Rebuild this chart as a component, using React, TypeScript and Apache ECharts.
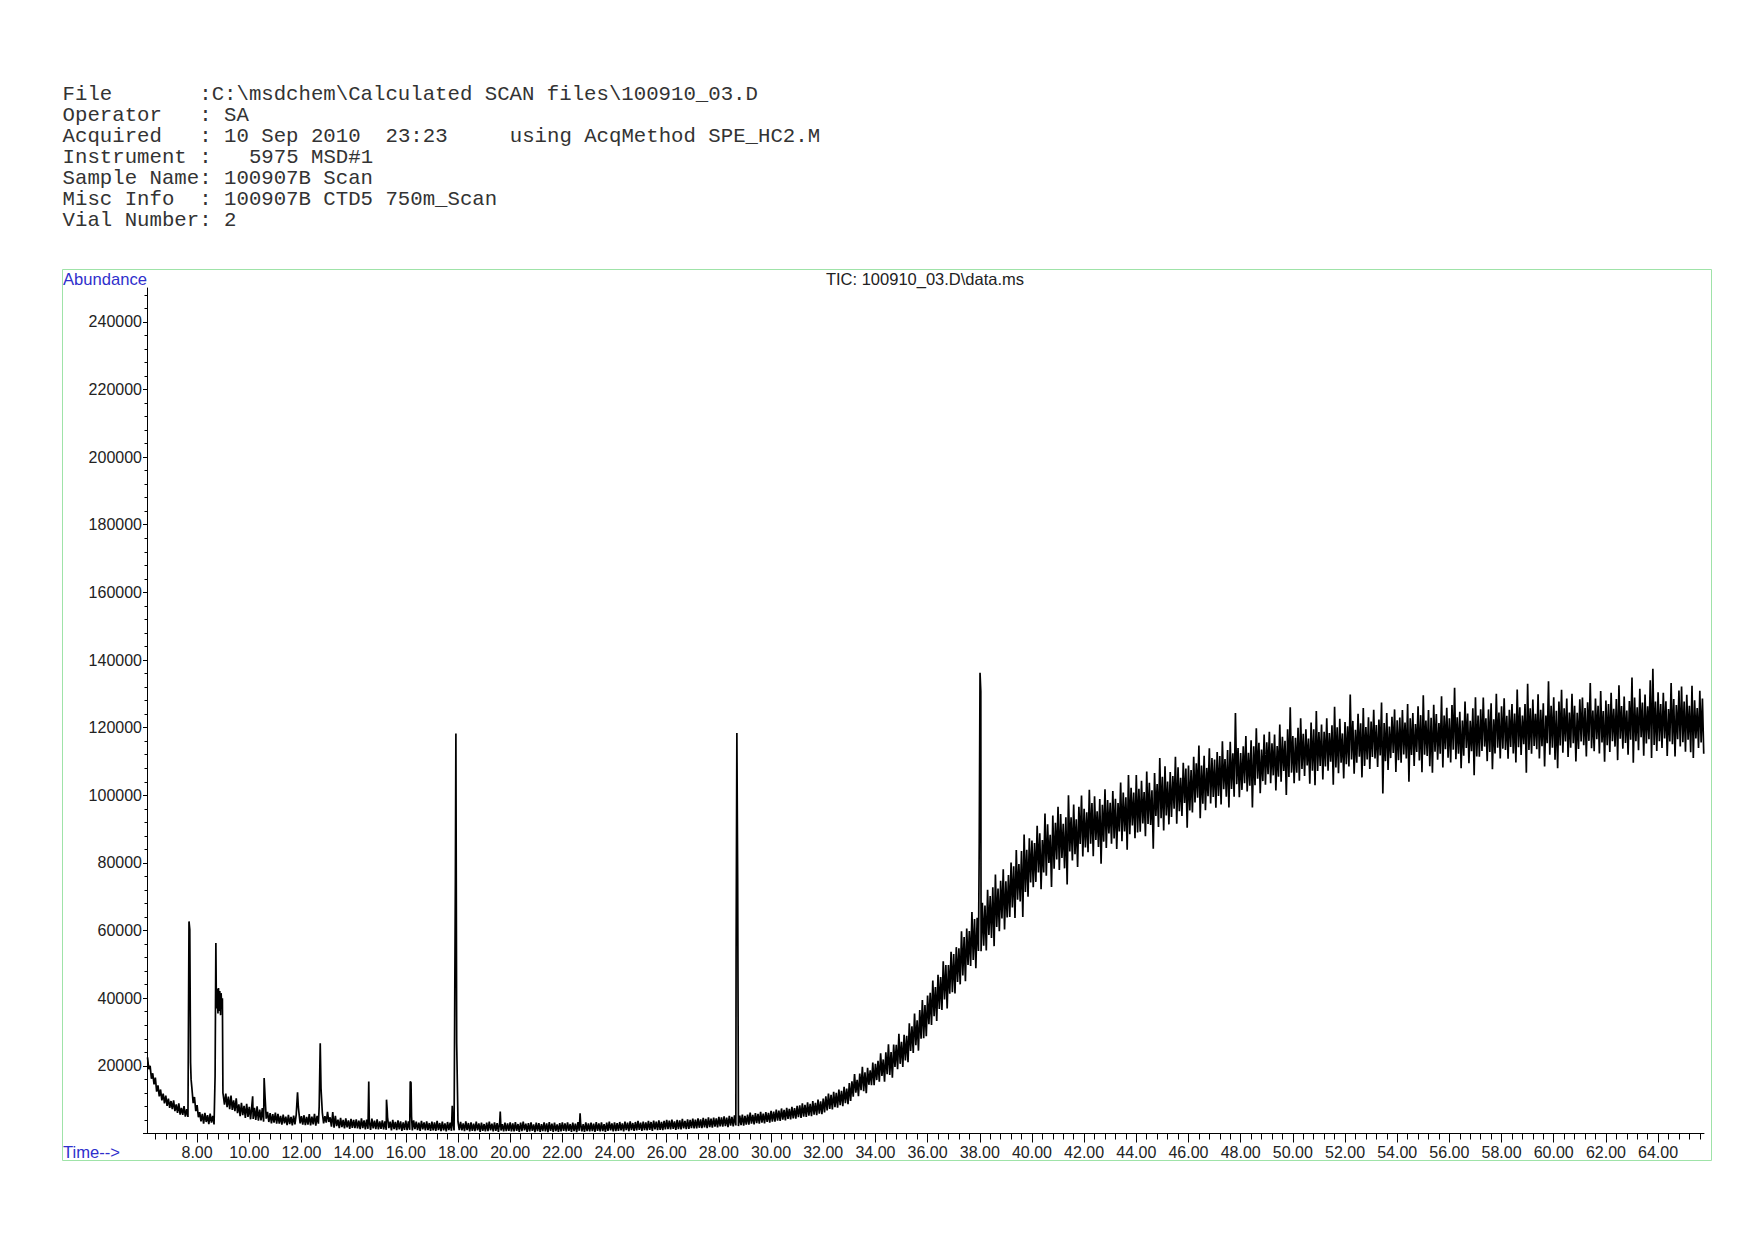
import React, { useEffect, useRef } from "react";
import * as echarts from "echarts";

// ---- header text (monospace block) ----
const headerRows: [number, string][][] = [
  [[0, "File"], [11, ":C:\\msdchem\\Calculated SCAN files\\100910_03.D"]],
  [[0, "Operator"], [11, ": SA"]],
  [[0, "Acquired"], [11, ": 10 Sep 2010"], [26, "23:23"], [36, "using AcqMethod SPE_HC2.M"]],
  [[0, "Instrument :"], [15, "5975 MSD#1"]],
  [[0, "Sample Name: 100907B Scan"]],
  [[0, "Misc Info"], [11, ": 100907B CTD5 750m_Scan"]],
  [[0, "Vial Number: 2"]],
];
const chartTitle = "TIC: 100910_03.D\\data.ms";
const yAxisName = "Abundance";
const xAxisName = "Time-->";

// ---- axes ----
const timeMin = 6.08;
const timeMax = 65.76;
const xTickLabels = [8, 10, 12, 14, 16, 18, 20, 22, 24, 26, 28, 30, 32, 34, 36, 38, 40, 42, 44, 46, 48, 50, 52, 54, 56, 58, 60, 62, 64];
const yMax = 250000;
const yTickLabels = [20000, 40000, 60000, 80000, 100000, 120000, 140000, 160000, 180000, 200000, 220000, 240000];

// ---- TIC trace: max / min of the signal (in thousands) inside each 0.1-min slice ----
const scanStart = 6.1;
const scanStep = 0.1;
const ticHi = [
  22.5, 20.0, 17.8, 16.5, 14.2, 13.0, 11.8, 11.2, 10.3, 9.6, // 6.1-7.0
  9.8, 8.6, 8.9, 7.6, 8.1, 7.2, 7.0, 13.5, 10.8, 8.4, // 7.1-8.0
  6.3, 5.8, 6.1, 5.4, 5.9, 5.2, 5.5, 42.0, 41.0, 11.5, // 8.1-9.0
  11.8, 10.9, 11.2, 9.8, 10.4, 8.6, 9.1, 8.2, 8.8, 7.9, // 9.1-10.0
  8.4, 7.6, 8.0, 7.1, 7.5, 9.8, 6.4, 6.0, 5.7, 6.2, // 10.1-11.0
  5.8, 5.2, 5.6, 5.0, 5.5, 4.9, 5.3, 5.6, 6.4, 5.1, // 11.1-12.0
  5.4, 4.9, 5.7, 5.0, 5.8, 5.2, 5.5, 6.2, 5.1, 6.4, // 12.1-13.0
  4.8, 6.3, 5.2, 4.1, 4.6, 4.0, 4.5, 3.9, 4.3, 4.0, // 13.1-14.0
  4.2, 3.8, 4.5, 3.9, 4.1, 3.7, 4.4, 3.8, 4.2, 3.6, // 14.1-15.0
  3.9, 3.6, 4.8, 3.5, 4.0, 3.4, 3.9, 3.6, 3.3, 3.8, // 15.1-16.0
  3.6, 3.4, 3.9, 3.5, 3.2, 3.7, 3.3, 3.6, 3.1, 3.5, // 16.1-17.0
  3.3, 3.7, 3.1, 3.5, 3.0, 3.4, 3.2, 3.6, 3.3, 3.5, // 17.1-18.0
  3.4, 3.0, 3.6, 3.1, 3.3, 2.9, 3.5, 3.0, 3.2, 2.8, // 18.1-19.0
  3.2, 3.5, 2.9, 3.3, 3.1, 3.4, 2.8, 3.2, 3.0, 3.3, // 19.1-20.0
  3.0, 3.4, 2.8, 3.2, 3.5, 2.9, 3.1, 3.3, 2.7, 3.2, // 20.1-21.0
  3.1, 2.8, 3.3, 3.0, 3.4, 2.9, 3.2, 2.7, 3.1, 3.3, // 21.1-22.0
  3.0, 3.3, 2.8, 3.2, 2.9, 3.4, 3.1, 2.8, 3.3, 3.0, // 22.1-23.0
  3.2, 2.9, 3.4, 3.0, 3.3, 2.8, 3.2, 3.5, 3.0, 3.3, // 23.1-24.0
  3.1, 3.4, 3.0, 3.5, 3.2, 3.6, 3.1, 3.4, 3.7, 3.2, // 24.1-25.0
  3.5, 3.3, 3.7, 3.4, 3.8, 3.5, 3.9, 3.4, 3.7, 4.0, // 25.1-26.0
  3.8, 4.1, 3.6, 4.0, 3.9, 4.3, 3.7, 4.2, 4.0, 4.4, // 26.1-27.0
  4.1, 4.5, 4.2, 4.6, 4.3, 4.8, 4.4, 4.7, 4.5, 4.9, // 27.1-28.0
  4.8, 5.1, 4.7, 5.2, 4.9, 5.4, 5.0, 5.3, 5.6, 5.2, // 28.1-29.0
  5.6, 6.2, 5.5, 6.0, 5.8, 6.4, 5.9, 6.3, 6.1, 6.7, // 29.1-30.0
  6.5, 7.1, 6.8, 7.4, 7.0, 7.6, 7.3, 7.9, 7.5, 8.2, // 30.1-31.0
  8.3, 8.9, 8.5, 9.2, 8.8, 9.6, 9.1, 10.0, 9.5, 10.3, // 31.1-32.0
  11.0, 11.8, 11.4, 12.3, 12.0, 13.0, 12.6, 13.8, 13.3, 14.9, // 32.1-33.0
  15.4, 17.6, 15.9, 17.7, 19.7, 18.1, 19.4, 18.7, 21.0, 20.6, // 33.1-34.0
  21.5, 23.7, 21.9, 24.0, 26.4, 24.1, 26.3, 26.2, 29.5, 27.1, // 34.1-35.0
  29.2, 28.9, 32.6, 31.7, 35.5, 33.5, 36.5, 39.5, 38.0, 40.8, // 35.1-36.0
  41.6, 45.2, 43.3, 46.9, 46.3, 50.9, 49.8, 49.8, 53.7, 53.1, // 36.1-37.0
  55.1, 54.8, 59.8, 58.1, 60.6, 59.9, 65.5, 63.4, 63.8, 67.5, // 37.1-38.0
  68.2, 67.4, 72.1, 70.2, 72.8, 76.6, 72.4, 74.7, 78.1, 74.6, // 38.1-39.0
  76.4, 80.1, 79.0, 83.8, 79.7, 83.5, 88.4, 83.9, 87.3, 86.6, // 39.1-40.0
  85.9, 91.0, 88.8, 86.8, 94.6, 91.4, 88.3, 94.0, 91.9, 96.6, // 40.1-41.0
  94.5, 91.6, 93.5, 100.0, 93.5, 97.3, 92.9, 96.6, 99.9, 96.0, // 41.1-42.0
  95.0, 101.6, 97.7, 99.7, 95.3, 98.9, 97.2, 101.8, 98.6, 97.8, // 42.1-43.0
  101.3, 99.0, 97.7, 103.8, 100.8, 99.4, 106.0, 102.2, 100.8, 106.0, // 43.1-44.0
  101.9, 104.3, 101.0, 107.0, 103.7, 101.5, 106.6, 103.3, 111.0, 105.5, // 44.1-45.0
  108.6, 104.1, 106.9, 105.7, 111.4, 108.3, 105.2, 109.6, 107.9, 108.8, // 45.1-46.0
  107.5, 111.4, 109.5, 114.7, 108.8, 111.7, 108.1, 113.9, 111.0, 110.6, // 46.1-47.0
  112.8, 111.6, 116.0, 110.7, 113.4, 115.8, 112.4, 124.3, 114.0, 112.5, // 47.1-48.0
  114.5, 117.5, 112.6, 116.3, 114.5, 119.8, 115.5, 113.5, 118.0, 115.7, // 48.1-49.0
  118.8, 115.4, 118.0, 114.6, 120.9, 117.3, 116.1, 119.5, 126.0, 117.5, // 49.1-50.0
  117.0, 120.0, 122.8, 118.2, 119.5, 116.8, 121.5, 119.5, 124.9, 118.7, // 50.1-51.0
  120.9, 118.8, 122.8, 118.4, 120.7, 126.2, 120.1, 122.6, 118.3, 121.7, // 51.1-52.0
  120.4, 129.8, 122.0, 119.4, 124.1, 121.3, 125.8, 120.2, 123.1, 121.8, // 52.1-53.0
  125.3, 120.8, 122.4, 127.4, 121.4, 124.3, 120.3, 123.2, 125.4, 122.2, // 53.1-54.0
  123.0, 125.2, 121.5, 127.0, 122.8, 124.3, 121.1, 126.3, 123.7, 129.6, // 54.1-55.0
  122.1, 125.2, 122.9, 126.8, 124.0, 121.4, 129.3, 123.6, 125.9, 122.8, // 55.1-56.0
  126.7, 131.8, 123.1, 124.7, 122.1, 127.7, 124.2, 122.0, 125.7, 129.0, // 56.1-57.0
  123.6, 125.4, 128.9, 122.8, 125.4, 127.2, 122.5, 130.0, 124.5, 126.3, // 57.1-58.0
  128.7, 123.5, 125.3, 127.0, 124.2, 131.3, 126.0, 123.6, 127.0, 133.0, // 58.1-59.0
  125.7, 128.3, 124.1, 129.9, 125.3, 127.2, 123.6, 133.7, 126.5, 129.0, // 59.1-60.0
  125.0, 127.7, 131.2, 125.7, 128.6, 124.5, 130.0, 126.5, 124.4, 128.4, // 60.1-61.0
  128.9, 125.8, 127.5, 133.2, 125.1, 128.6, 126.5, 130.8, 124.9, 128.0, // 61.1-62.0
  127.0, 130.3, 125.6, 128.5, 132.5, 126.4, 129.2, 125.1, 127.9, 134.8, // 62.1-63.0
  128.9, 126.0, 131.5, 127.4, 129.8, 126.3, 134.0, 137.4, 127.7, 130.5, // 63.1-64.0
  127.0, 130.3, 127.8, 125.5, 133.2, 128.5, 126.7, 131.0, 132.2, 127.7, // 64.1-65.0
  129.7, 126.5, 132.4, 128.1, 125.8, 130.9, 128.6, // 65.1-65.7
];
const ticLo = [
  19.0, 16.2, 14.5, 12.4, 11.0, 9.8, 8.9, 8.2, 7.6, 7.2, // 6.1-7.0
  6.6, 6.1, 5.6, 5.5, 5.0, 4.9, 4.8, 9.0, 6.6, 4.8, // 7.1-8.0
  3.6, 2.9, 3.4, 2.8, 3.2, 2.7, 3.0, 36.0, 36.5, 8.5, // 8.1-9.0
  7.8, 7.2, 7.0, 6.6, 6.0, 5.1, 5.4, 4.6, 4.9, 4.2, // 9.1-10.0
  4.3, 4.0, 3.8, 3.9, 3.5, 4.4, 3.4, 3.0, 3.2, 2.9, // 10.1-11.0
  2.9, 2.6, 3.0, 2.5, 2.8, 2.4, 2.7, 3.1, 3.0, 2.6, // 11.1-12.0
  2.5, 2.6, 2.4, 2.7, 2.3, 2.9, 2.8, 3.0, 3.2, 3.4, // 12.1-13.0
  2.0, 1.7, 2.2, 1.6, 1.9, 1.5, 1.8, 1.4, 1.7, 1.6, // 13.1-14.0
  1.5, 1.3, 1.6, 1.2, 1.4, 1.1, 1.5, 1.3, 1.2, 1.4, // 14.1-15.0
  1.2, 1.1, 1.6, 0.9, 1.3, 1.0, 1.2, 0.8, 1.1, 1.0, // 15.1-16.0
  1.1, 0.9, 1.3, 1.0, 0.8, 1.2, 0.9, 1.0, 0.8, 0.9, // 16.1-17.0
  0.8, 1.0, 0.7, 0.9, 0.6, 1.0, 0.8, 0.9, 0.7, 1.0, // 17.1-18.0
  0.9, 0.7, 1.0, 0.6, 0.8, 0.7, 0.9, 0.5, 0.8, 0.6, // 18.1-19.0
  0.7, 0.9, 0.6, 0.8, 0.5, 0.9, 0.6, 0.7, 0.8, 0.6, // 19.1-20.0
  0.6, 0.8, 0.5, 0.7, 0.9, 0.5, 0.6, 0.8, 0.4, 0.7, // 20.1-21.0
  0.5, 0.7, 0.6, 0.4, 0.8, 0.5, 0.7, 0.5, 0.6, 0.8, // 21.1-22.0
  0.6, 0.8, 0.5, 0.7, 0.4, 0.8, 0.6, 0.5, 0.7, 0.6, // 22.1-23.0
  0.7, 0.5, 0.8, 0.6, 0.7, 0.5, 0.8, 0.9, 0.6, 0.7, // 23.1-24.0
  0.8, 0.9, 0.6, 1.0, 0.7, 1.0, 0.8, 0.9, 1.1, 0.8, // 24.1-25.0
  1.0, 0.9, 1.1, 0.8, 1.2, 1.0, 1.1, 1.0, 1.2, 1.3, // 25.1-26.0
  1.2, 1.4, 1.1, 1.3, 1.2, 1.5, 1.3, 1.4, 1.6, 1.5, // 26.1-27.0
  1.5, 1.7, 1.6, 1.8, 1.6, 1.9, 1.7, 2.0, 1.8, 2.1, // 27.1-28.0
  2.0, 2.2, 1.9, 2.3, 2.1, 2.4, 2.2, 2.5, 2.3, 2.6, // 28.1-29.0
  2.6, 2.9, 2.7, 3.1, 2.9, 3.2, 3.0, 3.4, 3.2, 3.5, // 29.1-30.0
  3.5, 3.8, 3.7, 4.1, 3.9, 4.3, 4.2, 4.5, 4.4, 4.8, // 30.1-31.0
  4.6, 5.0, 4.9, 5.3, 5.1, 5.6, 5.4, 5.9, 5.7, 6.2, // 31.1-32.0
  6.8, 7.3, 7.1, 7.8, 7.6, 8.4, 8.1, 9.0, 8.7, 9.6, // 32.1-33.0
  10.9, 12.1, 11.0, 12.8, 12.5, 11.9, 14.4, 14.3, 14.3, 15.8, // 33.1-34.0
  15.3, 17.0, 15.3, 17.5, 17.3, 16.5, 19.7, 19.0, 20.6, 19.7, // 34.1-35.0
  21.6, 21.1, 24.4, 23.8, 26.1, 24.5, 28.0, 28.2, 28.8, 32.3, // 35.1-36.0
  32.1, 34.7, 33.3, 36.8, 36.5, 39.6, 37.0, 41.3, 41.8, 41.4, // 36.1-37.0
  44.8, 44.1, 46.7, 45.0, 49.8, 49.5, 51.3, 48.9, 54.0, 53.9, // 37.1-38.0
  55.5, 54.1, 58.7, 57.8, 55.4, 61.1, 59.8, 63.6, 60.3, 63.9, // 38.1-39.0
  64.0, 66.8, 63.7, 69.1, 68.6, 64.0, 71.4, 70.0, 74.2, 72.8, // 39.1-40.0
  74.4, 77.2, 72.2, 77.2, 76.2, 80.0, 72.9, 78.3, 81.0, 77.9, // 40.1-41.0
  81.5, 78.4, 73.6, 83.4, 80.7, 82.6, 78.8, 85.6, 81.9, 84.6, // 41.1-42.0
  83.2, 85.7, 82.0, 86.8, 84.7, 79.8, 86.3, 84.4, 88.7, 85.7, // 42.1-43.0
  87.2, 84.1, 89.3, 86.4, 89.3, 83.9, 88.5, 91.1, 87.3, 89.0, // 43.1-44.0
  89.2, 91.7, 87.9, 91.5, 91.2, 84.2, 93.9, 90.6, 93.2, 89.6, // 44.1-45.0
  94.0, 91.4, 93.6, 96.0, 91.6, 95.3, 93.9, 97.7, 90.4, 95.5, // 45.1-46.0
  94.9, 97.9, 99.3, 93.2, 97.5, 95.6, 99.7, 97.6, 99.5, 96.3, // 46.1-47.0
  99.8, 97.3, 101.8, 99.6, 96.4, 101.9, 99.6, 103.3, 99.4, 101.6, // 47.1-48.0
  103.6, 101.1, 102.8, 96.4, 103.0, 104.9, 100.6, 104.2, 103.1, 106.2, // 48.1-49.0
  103.6, 105.9, 101.4, 105.5, 104.0, 107.2, 100.1, 105.4, 106.7, 103.6, // 49.1-50.0
  106.7, 104.3, 107.8, 105.7, 108.8, 103.4, 107.3, 103.0, 107.2, 108.7, // 50.1-51.0
  104.7, 108.5, 107.3, 109.9, 103.1, 108.2, 106.5, 109.6, 105.0, 109.2, // 51.1-52.0
  108.5, 110.6, 106.4, 109.6, 111.4, 105.3, 108.7, 110.6, 107.8, 111.3, // 52.1-53.0
  110.9, 108.4, 111.8, 100.5, 110.1, 107.5, 111.0, 112.5, 106.9, 110.4, // 53.1-54.0
  109.6, 112.1, 110.9, 104.0, 111.9, 108.7, 112.8, 110.3, 106.8, 112.0, // 54.1-55.0
  111.6, 108.6, 106.7, 112.9, 110.5, 112.3, 108.2, 113.6, 111.1, 109.7, // 55.1-56.0
  113.5, 110.7, 112.3, 108.0, 111.7, 114.0, 109.5, 113.0, 105.9, 111.5, // 56.1-57.0
  111.4, 113.1, 114.4, 110.1, 112.8, 107.7, 112.4, 114.1, 110.9, 113.8, // 57.1-58.0
  113.4, 110.8, 114.3, 112.4, 109.7, 114.2, 111.9, 115.1, 106.7, 113.4, // 58.1-59.0
  112.3, 114.6, 113.6, 110.9, 114.5, 108.5, 115.4, 112.0, 114.1, 110.5, // 59.1-60.0
  108.0, 114.7, 112.6, 115.9, 111.3, 114.1, 115.4, 110.0, 113.7, 115.9, // 60.1-61.0
  114.8, 111.5, 116.1, 113.9, 113.0, 116.6, 112.4, 115.6, 109.9, 114.8, // 61.1-62.0
  112.8, 116.0, 114.4, 110.4, 116.7, 113.8, 115.5, 112.0, 116.4, 109.6, // 62.1-63.0
  116.0, 113.3, 117.2, 111.7, 115.3, 116.6, 111.0, 114.9, 113.1, 116.0, // 63.1-64.0
  114.0, 116.8, 111.6, 115.9, 115.1, 111.5, 116.6, 114.4, 115.7, 112.9, // 64.1-65.0
  116.4, 112.7, 111.0, 116.8, 114.0, 115.6, 112.3, // 65.1-65.7
];

// ---- peaks: [time (min), abundance (thousands)] ----
const peaks: [number, number][][] = [
  [[7.69, 62.7], [7.72, 60.3], [7.75, 21.0], [7.77, 16.0]],
  [[8.69, 17.0], [8.72, 56.3], [8.74, 37.0], [8.77, 42.8], [8.80, 35.5], [8.82, 43.0], [8.85, 36.2], [8.87, 42.1], [8.90, 35.0], [8.92, 41.5], [8.95, 36.8], [8.97, 40.0], [8.99, 12.0]],
  [[10.13, 11.0]],
  [[10.57, 16.4], [10.61, 10.2]],
  [[11.85, 12.2], [11.88, 8.0]],
  [[12.68, 8.0], [12.72, 26.7], [12.75, 13.4]],
  [[14.58, 15.4]],
  [[15.26, 10.0], [15.29, 6.6]],
  [[16.17, 15.4], [16.2, 15.0], [16.22, 5.0]],
  [[17.78, 8.2]],
  [[17.9, 75.0], [17.92, 118.3], [17.95, 26.7]],
  [[19.62, 6.5]],
  [[22.68, 6.0]],
  [[28.66, 52.3], [28.69, 118.4], [28.72, 75.5]],
  [[37.98, 86.0], [38.01, 136.2], [38.04, 130.7]],
];

function buildTrace(): [number, number][] {
  const pts: [number, number][] = [];
  for (let i = 0; i < ticHi.length; i++) {
    const t = Math.round((scanStart + i * scanStep) * 1000) / 1000;
    pts.push([t, ticHi[i] * 1000]);
    pts.push([Math.round((t + scanStep / 2) * 1000) / 1000, ticLo[i] * 1000]);
  }
  const spans = peaks.map((p) => [p[0][0], p[p.length - 1][0]]);
  const kept = pts.filter(([t]) => !spans.some(([a, b]) => t >= a - 1e-6 && t <= b + 1e-6));
  for (const p of peaks) for (const [t, v] of p) kept.push([t, v * 1000]);
  kept.sort((a, b) => a[0] - b[0]);
  return kept;
}

const MONO = "'Liberation Mono', 'Courier New', monospace";
const SANS = "'Liberation Sans', Arial, sans-serif";

export default function App() {
  const ref = useRef<HTMLDivElement>(null);
  useEffect(() => {
    document.body.style.margin = "0";
    if (!ref.current) return;
    const chart = echarts.init(ref.current, null, { renderer: "svg" });

    const charW = 12.42;
    const headerGraphics: any[] = [];
    headerRows.forEach((row, r) => {
      row.forEach(([col, txt]) => {
        headerGraphics.push({
          type: "text",
          x: 62.6 + col * charW,
          y: 94.6 + r * 20.9,
          silent: true,
          style: { text: txt, font: `20.7px ${MONO}`, fill: "#333333", verticalAlign: "middle", textVerticalAlign: "middle" },
        });
      });
    });

    const xMinor: number[] = [];
    for (let k = 16; k <= 164; k++) xMinor.push(Math.round(k * 0.4 * 100) / 100);
    const yTicks = [0, ...yTickLabels];

    const option: any = {
      animation: false,
      backgroundColor: "#ffffff",
      grid: { left: 147, top: 288, width: 1557, height: 845.5, containLabel: false },
      xAxis: [
        {
          type: "value", position: "bottom", min: timeMin, max: timeMax,
          axisLine: { show: true, onZero: false, lineStyle: { color: "#000", width: 1 } },
          axisTick: { show: true, customValues: xMinor, length: 6, lineStyle: { color: "#000", width: 1 } },
          axisLabel: { show: false },
          splitLine: { show: false },
        },
        {
          type: "value", position: "bottom", min: timeMin, max: timeMax,
          axisLine: { show: false, onZero: false },
          axisTick: { show: true, customValues: xTickLabels, length: 9, lineStyle: { color: "#000", width: 1 } },
          axisLabel: {
            show: true, customValues: xTickLabels, margin: 11, fontSize: 16, fontFamily: SANS, color: "#222",
            formatter: (v: number) => v.toFixed(2),
          },
          splitLine: { show: false },
        },
      ],
      yAxis: {
        type: "value", min: 0, max: yMax, interval: 20000,
        axisLine: { show: true, onZero: false, lineStyle: { color: "#000", width: 1 } },
        axisTick: { show: true, customValues: yTicks, length: 4, lineStyle: { color: "#000", width: 1 } },
        minorTick: { show: true, splitNumber: 5, length: 2.5, lineStyle: { color: "#000", width: 1 } },
        axisLabel: {
          show: true, customValues: yTickLabels, margin: 5, fontSize: 16, fontFamily: SANS, color: "#222",
          formatter: (v: number) => String(v),
        },
        splitLine: { show: false },
      },
      series: [
        {
          type: "line",
          xAxisIndex: 0,
          yAxisIndex: 0,
          data: buildTrace(),
          showSymbol: false,
          symbol: "none",
          silent: true,
          lineStyle: { color: "#000", width: 1.7 },
          emphasis: { disabled: true },
        },
      ],
      graphic: [
        ...headerGraphics,
        {
          type: "rect", silent: true, z: 10,
          shape: { x: 62.5, y: 269.5, width: 1649, height: 891 },
          style: { fill: "none", stroke: "#9fe3a8", lineWidth: 1 },
        },
        {
          type: "text", x: 63, y: 279, silent: true,
          style: { text: yAxisName, font: `16.6px ${SANS}`, fill: "#2f2fcc", verticalAlign: "middle", textVerticalAlign: "middle" },
        },
        {
          type: "text", x: 925, y: 279, silent: true,
          style: { text: chartTitle, font: `16.5px ${SANS}`, fill: "#222", align: "center", textAlign: "center", verticalAlign: "middle", textVerticalAlign: "middle" },
        },
        {
          type: "text", x: 63, y: 1152, silent: true,
          style: { text: xAxisName, font: `16.6px ${SANS}`, fill: "#2f2fcc", verticalAlign: "middle", textVerticalAlign: "middle" },
        },
      ],
    };
    chart.setOption(option);
    return () => chart.dispose();
  }, []);
  return <div ref={ref} style={{ width: 1754, height: 1240 }} />;
}
